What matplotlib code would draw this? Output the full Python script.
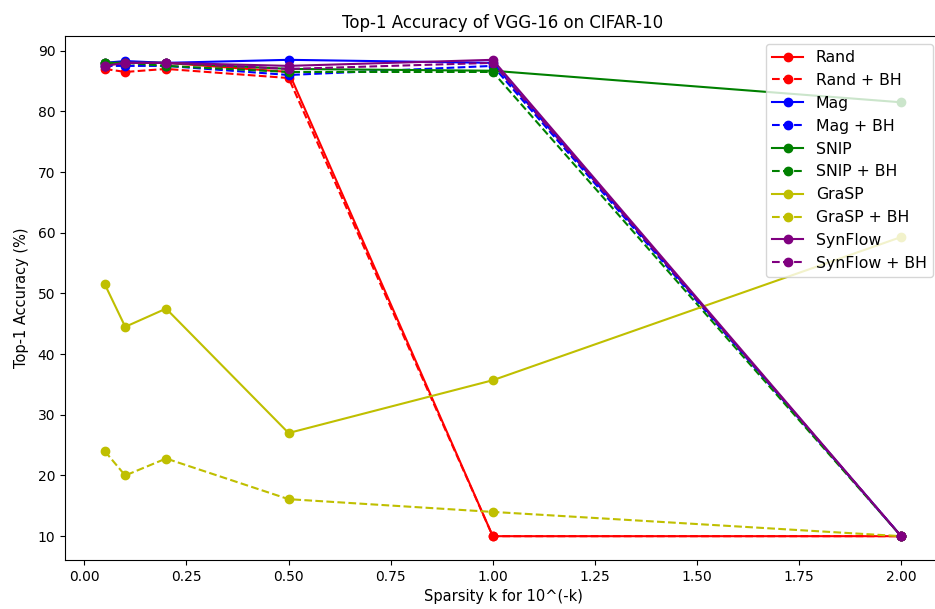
import matplotlib
matplotlib.use("Agg")
import matplotlib.pyplot as plt

sparsity = [0.05, 0.1, 0.2, 0.5, 1.0, 2.0]

rand = [88.0, 88.0, 88.0, 86.5, 10.0, 10.0]
rand_bh = [87.0, 86.5, 87.0, 85.5, 10.0, 10.0]
mag = [88.0, 88.3, 88.0, 88.5, 88.0, 10.0]
mag_bh = [87.5, 87.5, 87.5, 86.0, 87.5, 10.0]
snip = [88.0, 88.0, 88.0, 87.0, 86.7, 81.5]
snip_bh = [88.0, 88.0, 87.5, 86.5, 86.5, 10.0]
grasp = [51.5, 44.5, 47.5, 27.0, 35.7, 59.3]
grasp_bh = [24.0, 20.0, 22.8, 16.1, 14.0, 10.0]
synflow = [87.5, 88.0, 88.0, 87.5, 88.5, 10.0]
synflow_bh = [87.5, 88.0, 88.0, 87.0, 88.0, 10.0]

series = [
    ("Rand", rand, "r", "-"),
    ("Rand + BH", rand_bh, "r", "--"),
    ("Mag", mag, "b", "-"),
    ("Mag + BH", mag_bh, "b", "--"),
    ("SNIP", snip, "g", "-"),
    ("SNIP + BH", snip_bh, "g", "--"),
    ("GraSP", grasp, "y", "-"),
    ("GraSP + BH", grasp_bh, "y", "--"),
    ("SynFlow", synflow, "purple", "-"),
    ("SynFlow + BH", synflow_bh, "purple", "--"),
]

fig = plt.figure(figsize=(9.35, 6.09), dpi=100)
ax = fig.add_axes([65/935, 49/609, 876/935, 524/609])
for label, vals, c, ls in series:
    ax.plot(sparsity, vals, color=c, linestyle=ls, marker="o", label=label)
ax.set_title("Top-1 Accuracy of VGG-16 on CIFAR-10", fontsize=12)
ax.set_xlabel("Sparsity k for 10^(-k)", fontsize=10.5)
ax.set_ylabel("Top-1 Accuracy (%)", fontsize=10.5, labelpad=6)
ax.legend(loc="upper right", fontsize=11.3)
fig.savefig("out.png", dpi=100)
